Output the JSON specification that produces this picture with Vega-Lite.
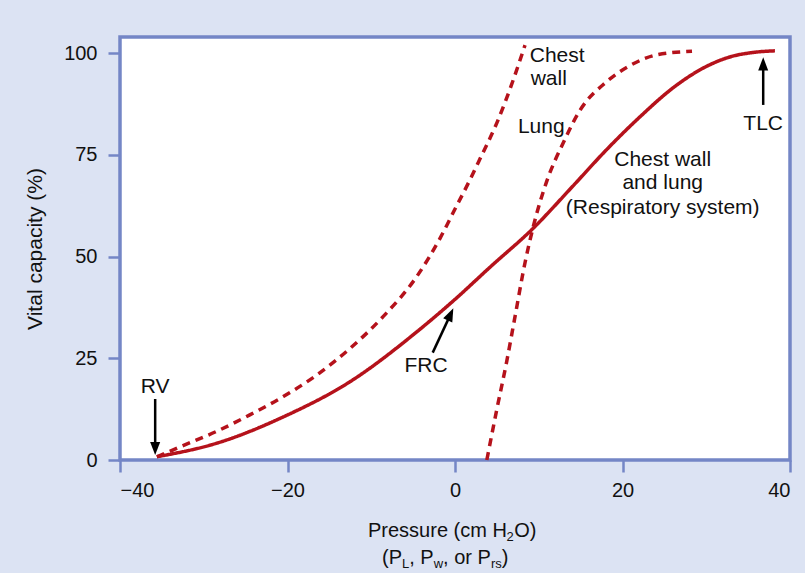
{
  "$schema": "https://vega.github.io/schema/vega-lite/v6.json",
  "autosize": "none",
  "width": 670,
  "height": 423,
  "padding": {"left": 120, "top": 37, "right": 15, "bottom": 113},
  "background": "#dce3f3",
  "config": {
    "font": "Liberation Sans",
    "view": {"fill": "white", "stroke": "#7486c6", "strokeWidth": 3.5},
    "axis": {
      "domain": false,
      "grid": false,
      "tickColor": "#7486c6",
      "tickWidth": 2.5,
      "tickSize": 12,
      "labelFont": "Liberation Sans",
      "labelFontSize": 20,
      "labelColor": "#111111",
      "titleFont": "Liberation Sans",
      "titleFontSize": 21,
      "titleFontWeight": "normal",
      "titleColor": "#111111"
    }
  },
  "datasets": {
    "curves": [
      {"series": "Chest wall", "x": -35.6, "y": 0.8},
      {"series": "Chest wall", "x": -32.4, "y": 3.6},
      {"series": "Chest wall", "x": -28.5, "y": 7.0},
      {"series": "Chest wall", "x": -24.5, "y": 11.1},
      {"series": "Chest wall", "x": -20.5, "y": 15.6},
      {"series": "Chest wall", "x": -16.5, "y": 20.9},
      {"series": "Chest wall", "x": -12.5, "y": 27.5},
      {"series": "Chest wall", "x": -8.56, "y": 35.3},
      {"series": "Chest wall", "x": -4.57, "y": 45.1},
      {"series": "Chest wall", "x": -1.79, "y": 54.5},
      {"series": "Chest wall", "x": 0, "y": 61.7},
      {"series": "Chest wall", "x": 1.79, "y": 68.9},
      {"series": "Chest wall", "x": 3.0, "y": 74.1},
      {"series": "Chest wall", "x": 5.0, "y": 82.9},
      {"series": "Chest wall", "x": 6.93, "y": 93.3},
      {"series": "Chest wall", "x": 8.36, "y": 102},
      {"series": "Lung", "x": 3.8, "y": 0},
      {"series": "Lung", "x": 5.0, "y": 12.5},
      {"series": "Lung", "x": 6.2, "y": 24.5},
      {"series": "Lung", "x": 7.1, "y": 34.5},
      {"series": "Lung", "x": 8.36, "y": 48.5},
      {"series": "Lung", "x": 9.35, "y": 57.4},
      {"series": "Lung", "x": 10.95, "y": 68.5},
      {"series": "Lung", "x": 12.93, "y": 78.0},
      {"series": "Lung", "x": 14.93, "y": 86.0},
      {"series": "Lung", "x": 18.1, "y": 93.0},
      {"series": "Lung", "x": 20.9, "y": 97.0},
      {"series": "Lung", "x": 24.1, "y": 99.6},
      {"series": "Lung", "x": 28.3, "y": 100.5},
      {"series": "Respiratory system", "x": -35.6, "y": 0.8},
      {"series": "Respiratory system", "x": -28.5, "y": 4.1},
      {"series": "Respiratory system", "x": -20.5, "y": 10.6},
      {"series": "Respiratory system", "x": -12.5, "y": 19.3},
      {"series": "Respiratory system", "x": -4.57, "y": 31.5},
      {"series": "Respiratory system", "x": 0, "y": 39.5},
      {"series": "Respiratory system", "x": 4.18, "y": 47.4},
      {"series": "Respiratory system", "x": 9.35, "y": 57.0},
      {"series": "Respiratory system", "x": 14.1, "y": 67.4},
      {"series": "Respiratory system", "x": 18.1, "y": 76.3},
      {"series": "Respiratory system", "x": 22.1, "y": 84.4},
      {"series": "Respiratory system", "x": 26.1, "y": 91.6},
      {"series": "Respiratory system", "x": 30.05, "y": 96.8},
      {"series": "Respiratory system", "x": 33.0, "y": 99.2},
      {"series": "Respiratory system", "x": 35.6, "y": 100.2},
      {"series": "Respiratory system", "x": 38.2, "y": 100.6}
    ],
    "arrows": [
      {"label": "TLC", "x": 36.8, "y": 87.3, "x2": 36.8, "y2": 97.0, "tx": 36.8, "ty": 99.0},
      {"label": "RV", "x": -35.8, "y": 15.0, "x2": -35.8, "y2": 3.2, "tx": -35.8, "ty": 1.2},
      {"label": "FRC", "x": -2.66, "y": 26.4, "x2": -0.6, "y2": 35.5, "tx": -0.2, "ty": 37.3}
    ],
    "notes": [
      {"t": "Chest", "x": 12.2, "y": 99.3},
      {"t": "wall", "x": 11.2, "y": 93.7},
      {"t": "Lung", "x": 10.3, "y": 81.9},
      {"t": "Chest wall", "x": 24.8, "y": 73.8},
      {"t": "and lung", "x": 24.8, "y": 68.0},
      {"t": "(Respiratory system)", "x": 24.8, "y": 62.0},
      {"t": "TLC", "x": 36.8, "y": 82.6},
      {"t": "RV", "x": -35.8, "y": 17.9},
      {"t": "FRC", "x": -3.46, "y": 23.1}
    ],
    "xtitle": [
      {"t": "Pressure (cm H", "x": -10.39, "y": -18.86, "kind": "main"},
      {"t": "2", "x": 6.14, "y": -19.8, "kind": "sub"},
      {"t": "O)", "x": 7.06, "y": -18.86, "kind": "main"},
      {"t": "(P", "x": -8.72, "y": -25.65, "kind": "main"},
      {"t": "L", "x": -6.33, "y": -26.55, "kind": "sub"},
      {"t": ", P", "x": -5.47, "y": -25.65, "kind": "main"},
      {"t": "w", "x": -2.54, "y": -26.55, "kind": "sub"},
      {"t": ", or P", "x": -1.43, "y": -25.65, "kind": "main"},
      {"t": "rs", "x": 4.29, "y": -26.55, "kind": "sub"},
      {"t": ")", "x": 5.58, "y": -25.65, "kind": "main"}
    ]
  },
  "layer": [
    {
      "mark": {"type": "rule", "color": "#7486c6", "strokeDash": [7, 5], "strokeWidth": 1.6},
      "encoding": {
        "x": {"datum": 0, "type": "quantitative", "scale": {"domain": [-40, 40], "nice": false}}
      }
    },
    {
      "data": {"name": "curves"},
      "mark": {"type": "line", "color": "#b5121b", "strokeWidth": 3.5, "interpolate": "monotone"},
      "encoding": {
        "x": {
          "field": "x", "type": "quantitative",
          "scale": {"domain": [-40, 40], "nice": false},
          "axis": {"values": [-40, -20, 0, 20, 40], "title": null, "labelPadding": 8}
        },
        "y": {
          "field": "y", "type": "quantitative",
          "scale": {"domain": [0, 104], "nice": false},
          "axis": {"values": [0, 25, 50, 75, 100], "title": "Vital capacity (%)", "labelPadding": 11, "titlePadding": 18}
        },
        "detail": {"field": "series"},
        "strokeDash": {
          "field": "series", "type": "nominal",
          "scale": {"domain": ["Chest wall", "Lung", "Respiratory system"], "range": [[8, 6], [8, 6], [1, 0]]},
          "legend": null
        }
      }
    },
    {
      "data": {"name": "arrows"},
      "mark": {"type": "rule", "color": "#000000", "strokeWidth": 2.5},
      "encoding": {
        "x": {"field": "x", "type": "quantitative"},
        "y": {"field": "y", "type": "quantitative"},
        "x2": {"field": "x2"},
        "y2": {"field": "y2"}
      }
    },
    {
      "data": {"name": "arrows"},
      "mark": {"type": "point", "filled": true, "color": "#000000", "opacity": 1, "size": 700},
      "encoding": {
        "x": {"field": "tx", "type": "quantitative"},
        "y": {"field": "ty", "type": "quantitative"},
        "shape": {
          "field": "label", "type": "nominal",
          "scale": {
            "domain": ["TLC", "RV", "FRC"],
            "range": ["M0,0L0.38,1L-0.38,1Z", "M0,0L0.38,-1L-0.38,-1Z", "M0,0L-0.078,1.067L-0.767,0.746Z"]
          },
          "legend": null
        }
      }
    },
    {
      "data": {"name": "notes"},
      "mark": {"type": "text", "fontSize": 21, "color": "#111111", "align": "center", "baseline": "middle"},
      "encoding": {
        "x": {"field": "x", "type": "quantitative"},
        "y": {"field": "y", "type": "quantitative"},
        "text": {"field": "t"}
      }
    },
    {
      "data": {"name": "xtitle"},
      "transform": [{"filter": "datum.kind === 'main'"}],
      "mark": {"type": "text", "fontSize": 20, "color": "#111111", "align": "left", "baseline": "alphabetic"},
      "encoding": {
        "x": {"field": "x", "type": "quantitative"},
        "y": {"field": "y", "type": "quantitative"},
        "text": {"field": "t"}
      }
    },
    {
      "data": {"name": "xtitle"},
      "transform": [{"filter": "datum.kind === 'sub'"}],
      "mark": {"type": "text", "fontSize": 13, "color": "#111111", "align": "left", "baseline": "alphabetic"},
      "encoding": {
        "x": {"field": "x", "type": "quantitative"},
        "y": {"field": "y", "type": "quantitative"},
        "text": {"field": "t"}
      }
    }
  ]
}
